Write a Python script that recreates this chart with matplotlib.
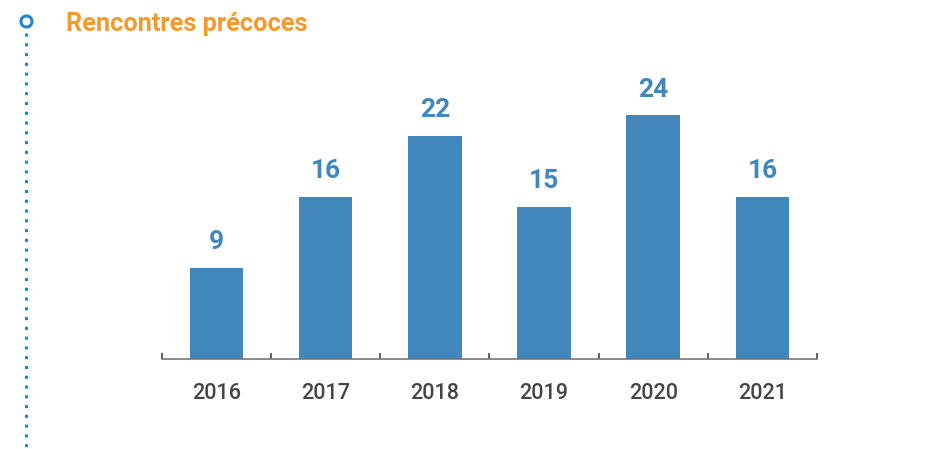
import matplotlib.pyplot as plt
from matplotlib.lines import Line2D

# Data
years = ['2016', '2017', '2018', '2019', '2020', '2021']
counts = [9, 16, 22, 15, 24, 16]

bar_color = '#4187BB'
title_color = '#F39A2E'
deco_color = '#1F86C8'

plt.rcParams['font.family'] = ['Roboto', 'DejaVu Sans']

fig = plt.figure(figsize=(9.46, 4.49), dpi=100)
ax = fig.add_axes([0.1712, 0.2004, 0.6924, 0.678])

x = range(len(years))
bars = ax.bar(x, counts, width=0.49, color=bar_color, zorder=2)
for xi, v in zip(x, counts):
    ax.annotate(str(v), (xi, v), xytext=(0, 10), textcoords='offset points',
                ha='center', va='bottom', fontsize=19, fontweight='bold',
                color=bar_color)

ax.set_xlim(-0.5, len(years) - 0.5)
ax.set_ylim(0, 30)
for s in ['top', 'right', 'left']:
    ax.spines[s].set_visible(False)
ax.spines['bottom'].set_color('#777777')
ax.spines['bottom'].set_linewidth(1.2)
ax.set_yticks([])

ax.set_xticks(list(x))
ax.set_xticklabels(years, fontsize=15.5, fontweight='medium', color='#444444')
ax.tick_params(axis='x', which='major', length=0, pad=17)
ax.set_xticks([i - 0.5 for i in range(len(years) + 1)], minor=True)
ax.tick_params(axis='x', which='minor', direction='in', length=4,
               width=1.2, color='#444444')

# Left decoration: ring and dotted line
fig.add_artist(Line2D([26 / 946, 26 / 946], [1 - 33 / 449, 0], color=deco_color,
                      linestyle=(0, (1, 2.2)), linewidth=2.2,
                      transform=fig.transFigure))
fig.add_artist(Line2D([26 / 946], [1 - 21 / 449], marker='o', markersize=8,
                      markerfacecolor='white', markeredgecolor=deco_color,
                      markeredgewidth=2.2, transform=fig.transFigure))

fig.text(66 / 946, 1 - 24 / 449, 'Rencontres précoces', fontsize=18.2,
         fontweight='bold', color=title_color, va='center', ha='left')

fig.savefig('out.png', dpi=100, facecolor='white')
